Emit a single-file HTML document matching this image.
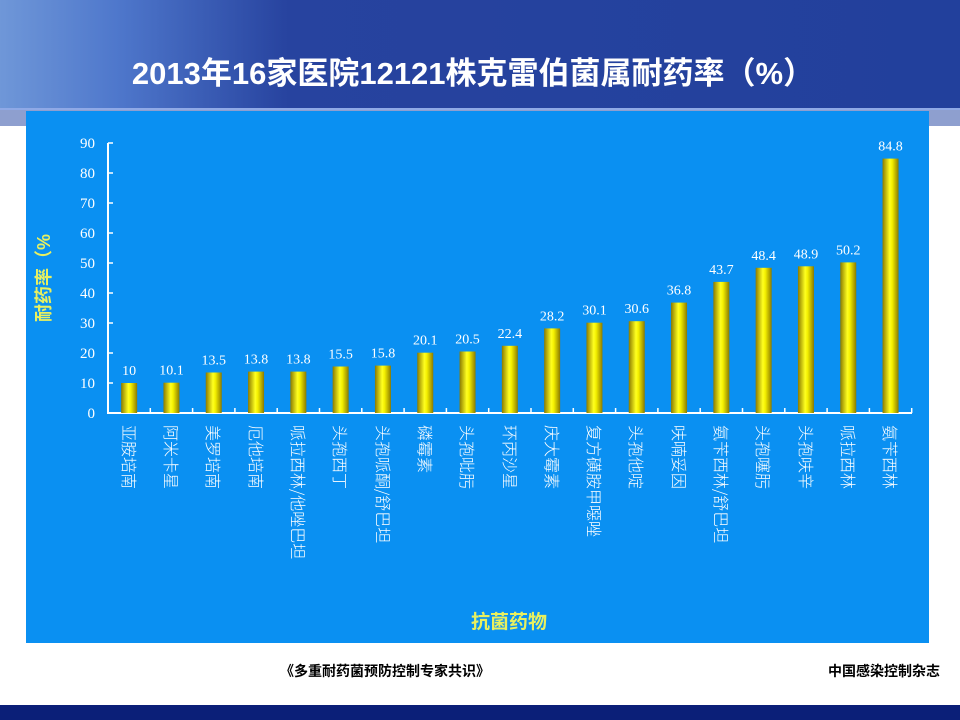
<!DOCTYPE html>
<html><head><meta charset="utf-8"><style>
html,body{margin:0;padding:0;width:960px;height:720px;overflow:hidden;background:#fff}
</style></head><body>
<svg width="960" height="720" xmlns="http://www.w3.org/2000/svg" font-family="'Liberation Serif','Noto Serif CJK SC',serif">
<defs>
<linearGradient id="hdr" x1="0" y1="0" x2="1" y2="0">
<stop offset="0" stop-color="#6f97d8"/><stop offset="0.12" stop-color="#4f78cc"/><stop offset="0.3" stop-color="#27439f"/><stop offset="1" stop-color="#22409c"/>
</linearGradient>
<linearGradient id="bar" x1="0" y1="0" x2="1" y2="0">
<stop offset="0" stop-color="#8a7a00"/><stop offset="0.45" stop-color="#ffff20"/><stop offset="0.6" stop-color="#f4f000"/><stop offset="1" stop-color="#8a7a00"/>
</linearGradient>
</defs>
<rect x="0" y="0" width="960" height="110" fill="url(#hdr)"/>
<rect x="0" y="108" width="960" height="2" fill="#8fa9e6"/>
<rect x="0" y="110" width="960" height="16" fill="#8e9fcf"/>
<rect x="0" y="126" width="960" height="580" fill="#ffffff"/>
<rect x="26" y="111" width="903" height="532" fill="#0a90f2"/>
<rect x="0" y="705" width="960" height="15" fill="#0b1f78"/>
<text x="473" y="84" text-anchor="middle" fill="#fff" font-size="31" font-weight="bold" font-family="'Liberation Sans','Noto Sans CJK SC',sans-serif">2013年16家医院12121株克雷伯菌属耐药率（%）</text>
<g stroke="#fff" stroke-width="2" fill="none">
<line x1="108" y1="143" x2="108" y2="413"/>
<line x1="107" y1="413" x2="912" y2="413"/>
</g>
<g stroke="#fff" stroke-width="1.5">
<line x1="108" y1="143" x2="113" y2="143"/><line x1="108" y1="173" x2="113" y2="173"/><line x1="108" y1="203" x2="113" y2="203"/><line x1="108" y1="233" x2="113" y2="233"/><line x1="108" y1="263" x2="113" y2="263"/><line x1="108" y1="293" x2="113" y2="293"/><line x1="108" y1="323" x2="113" y2="323"/><line x1="108" y1="353" x2="113" y2="353"/><line x1="108" y1="383" x2="113" y2="383"/>
<line x1="150.3" y1="413" x2="150.3" y2="408"/><line x1="192.6" y1="413" x2="192.6" y2="408"/><line x1="234.9" y1="413" x2="234.9" y2="408"/><line x1="277.2" y1="413" x2="277.2" y2="408"/><line x1="319.5" y1="413" x2="319.5" y2="408"/><line x1="361.8" y1="413" x2="361.8" y2="408"/><line x1="404.1" y1="413" x2="404.1" y2="408"/><line x1="446.4" y1="413" x2="446.4" y2="408"/><line x1="488.7" y1="413" x2="488.7" y2="408"/><line x1="531" y1="413" x2="531" y2="408"/><line x1="573.3" y1="413" x2="573.3" y2="408"/><line x1="615.6" y1="413" x2="615.6" y2="408"/><line x1="657.9" y1="413" x2="657.9" y2="408"/><line x1="700.2" y1="413" x2="700.2" y2="408"/><line x1="742.5" y1="413" x2="742.5" y2="408"/><line x1="784.8" y1="413" x2="784.8" y2="408"/><line x1="827.1" y1="413" x2="827.1" y2="408"/><line x1="869.4" y1="413" x2="869.4" y2="408"/><line x1="911.7" y1="413" x2="911.7" y2="408"/>
</g>
<g fill="#fff" font-size="15" text-anchor="end">
<text x="95" y="148">90</text><text x="95" y="178">80</text><text x="95" y="208">70</text><text x="95" y="238">60</text><text x="95" y="268">50</text><text x="95" y="298">40</text><text x="95" y="328">30</text><text x="95" y="358">20</text><text x="95" y="388">10</text><text x="95" y="418">0</text>
</g>
<text transform="translate(50,278) rotate(-90)" text-anchor="middle" fill="#e8f060" font-size="18" font-weight="bold" font-family="'Liberation Sans','Noto Sans CJK SC',sans-serif">耐药率（%</text>
<text x="509" y="628" text-anchor="middle" fill="#e8f060" font-size="19" font-weight="bold" font-family="'Liberation Sans','Noto Sans CJK SC',sans-serif">抗菌药物</text>
<g fill="url(#bar)">
<rect x="121.15" y="383" width="16" height="30"/>
<rect x="163.45" y="382.7" width="16" height="30.3"/>
<rect x="205.75" y="372.5" width="16" height="40.5"/>
<rect x="248.05" y="371.6" width="16" height="41.4"/>
<rect x="290.35" y="371.6" width="16" height="41.4"/>
<rect x="332.65" y="366.5" width="16" height="46.5"/>
<rect x="374.95" y="365.6" width="16" height="47.4"/>
<rect x="417.25" y="352.7" width="16" height="60.3"/>
<rect x="459.55" y="351.5" width="16" height="61.5"/>
<rect x="501.85" y="345.8" width="16" height="67.2"/>
<rect x="544.15" y="328.4" width="16" height="84.6"/>
<rect x="586.45" y="322.7" width="16" height="90.3"/>
<rect x="628.75" y="321.2" width="16" height="91.8"/>
<rect x="671.05" y="302.6" width="16" height="110.4"/>
<rect x="713.35" y="281.9" width="16" height="131.1"/>
<rect x="755.65" y="267.8" width="16" height="145.2"/>
<rect x="797.95" y="266.3" width="16" height="146.7"/>
<rect x="840.25" y="262.4" width="16" height="150.6"/>
<rect x="882.55" y="158.6" width="16" height="254.4"/>
</g>
<g fill="#fff" font-size="14" text-anchor="middle">
<text x="129.15" y="375">10</text>
<text x="171.45" y="374.7">10.1</text>
<text x="213.75" y="364.5">13.5</text>
<text x="256.05" y="363.6">13.8</text>
<text x="298.35" y="363.6">13.8</text>
<text x="340.65" y="358.5">15.5</text>
<text x="382.95" y="357.6">15.8</text>
<text x="425.25" y="344.7">20.1</text>
<text x="467.55" y="343.5">20.5</text>
<text x="509.85" y="337.8">22.4</text>
<text x="552.15" y="320.4">28.2</text>
<text x="594.45" y="314.7">30.1</text>
<text x="636.75" y="313.2">30.6</text>
<text x="679.05" y="294.6">36.8</text>
<text x="721.35" y="273.9">43.7</text>
<text x="763.65" y="259.8">48.4</text>
<text x="805.95" y="258.3">48.9</text>
<text x="848.25" y="254.4">50.2</text>
<text x="890.55" y="150.6">84.8</text>
</g>
<g fill="#fff" font-size="16" font-family="'Noto Sans CJK SC',sans-serif" font-weight="300">
<text transform="translate(123,425) rotate(90)">亚胺培南</text>
<text transform="translate(165,425) rotate(90)">阿米卡星</text>
<text transform="translate(207,425) rotate(90)">美罗培南</text>
<text transform="translate(250,425) rotate(90)">厄他培南</text>
<text transform="translate(292,425) rotate(90)">哌拉西林/他唑巴坦</text>
<text transform="translate(334,425) rotate(90)">头孢西丁</text>
<text transform="translate(377,425) rotate(90)">头孢哌酮/舒巴坦</text>
<text transform="translate(419,425) rotate(90)">磷霉素</text>
<text transform="translate(461,425) rotate(90)">头孢吡肟</text>
<text transform="translate(504,425) rotate(90)">环丙沙星</text>
<text transform="translate(546,425) rotate(90)">庆大霉素</text>
<text transform="translate(588,425) rotate(90)">复方磺胺甲噁唑</text>
<text transform="translate(630,425) rotate(90)">头孢他啶</text>
<text transform="translate(673,425) rotate(90)">呋喃妥因</text>
<text transform="translate(715,425) rotate(90)">氨苄西林/舒巴坦</text>
<text transform="translate(757,425) rotate(90)">头孢噻肟</text>
<text transform="translate(800,425) rotate(90)">头孢呋辛</text>
<text transform="translate(842,425) rotate(90)">哌拉西林</text>
<text transform="translate(884,425) rotate(90)">氨苄西林</text>
</g>
<text x="385" y="676" text-anchor="middle" fill="#000" font-size="14" font-weight="bold" font-family="'Liberation Sans','Noto Sans CJK SC',sans-serif">《多重耐药菌预防控制专家共识》</text>
<text x="884" y="676" text-anchor="middle" fill="#000" font-size="14" font-weight="bold" font-family="'Liberation Sans','Noto Sans CJK SC',sans-serif">中国感染控制杂志</text>
</svg>
</body></html>
